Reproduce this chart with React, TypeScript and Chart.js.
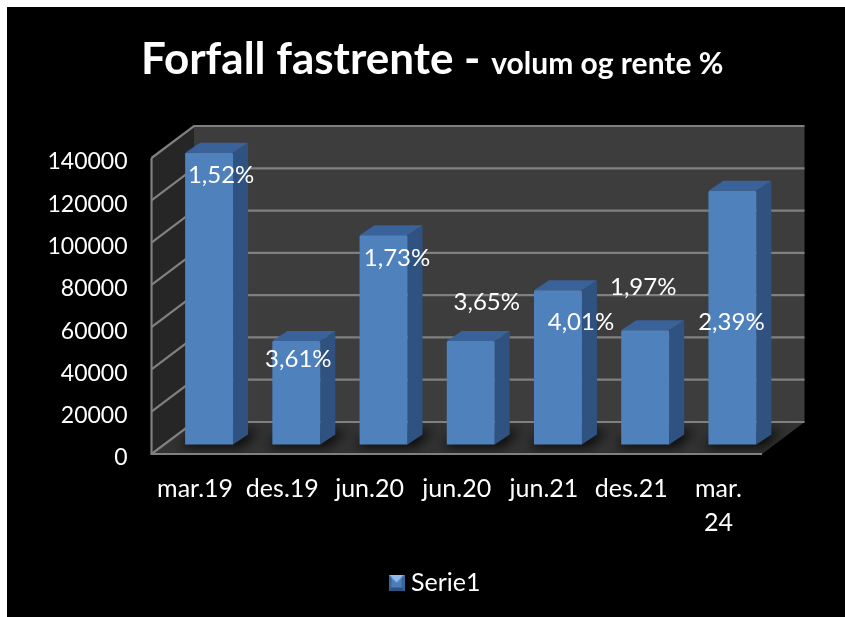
import React, { useEffect, useRef } from "react";
import { Chart, registerables } from "chart.js";

Chart.register(...registerables);

const categories: (string | string[])[] = ["mar.19", "des.19", "jun.20", "jun.20", "jun.21", "des.21", ["mar.", "24"]];
const volumes = [138000, 49000, 99000, 49000, 73000, 54000, 120000];
const rateLabels = ["1,52%", "3,61%", "1,73%", "3,65%", "4,01%", "1,97%", "2,39%"];
const rateLabelOffsets = [[12, 23], [2, 18], [13.5, 23], [16, -39], [23, 32], [-2, -43], [-1, 131]];
const seriesName = "Serie1";

const FONT = "Lato, 'Open Sans', sans-serif";
const WALL_DX = 42.5, WALL_DY = -32;
const BAR_SHIFT_X = 14, BAR_SHIFT_Y = -9.5;
const DEPTH_X = 15, DEPTH_Y = -10;

function poly(ctx: CanvasRenderingContext2D, pts: number[][], fill: string | CanvasGradient) {
  ctx.beginPath();
  pts.forEach((p, i) => (i ? ctx.lineTo(p[0], p[1]) : ctx.moveTo(p[0], p[1])));
  ctx.closePath();
  ctx.fillStyle = fill;
  ctx.fill();
}

const scene = {
  id: "scene3d",
  afterLayout(chart: any) {
    const lg = chart.legend;
    if (lg) { lg.left += 56.5; lg.right += 56.5; }
  },
  beforeDraw(chart: any) {
    const { ctx, chartArea: a, scales } = chart;
    ctx.save();
    ctx.fillStyle = "#fff";
    ctx.fillRect(0, 0, chart.width, chart.height);
    ctx.fillStyle = "#000";
    ctx.fillRect(7, 7, chart.width - 7, chart.height - 7);
    const { left: l, right: r, top: t, bottom: b } = a;
    const bl = l + WALL_DX, br = r + WALL_DX, bt = t + WALL_DY, bb = b + WALL_DY;
    poly(ctx, [[bl, bt], [br, bt], [br, bb], [bl, bb]], "#3d3d3d");
    poly(ctx, [[l, t], [bl, bt], [bl, bb], [l, b]], "#262626");
    poly(ctx, [[l, b], [bl, bb], [br, bb], [r, b]], "#333333");

    // floor shadows
    ctx.save();
    ctx.beginPath();
    ctx.moveTo(l, b); ctx.lineTo(bl, bb); ctx.lineTo(br, bb); ctx.lineTo(r, b); ctx.closePath();
    ctx.clip();
    ctx.filter = "blur(6px)";
    chart.getDatasetMeta(0).data.forEach((bar: any) => {
      const x0 = bar.x - bar.width / 2 + BAR_SHIFT_X, x1 = bar.x + bar.width / 2 + BAR_SHIFT_X;
      const y = bar.base + BAR_SHIFT_Y;
      poly(ctx, [[x0 - 6, y + 3], [x0 + 12, y - 14], [x1 + 26, y - 14], [x1 + 8, y + 3]], "rgba(0,0,0,0.8)");
    });
    ctx.restore();

    // grid
    ctx.strokeStyle = "#808080";
    ctx.lineWidth = 2.2;
    const y = scales.y;
    y.ticks.forEach((tk: any) => {
      const py = y.getPixelForValue(tk.value);
      ctx.beginPath();
      ctx.moveTo(l, py);
      ctx.lineTo(bl, py + WALL_DY);
      ctx.lineTo(br, py + WALL_DY);
      ctx.stroke();
    });
    ctx.beginPath();
    ctx.moveTo(l, t); ctx.lineTo(l, b); ctx.lineTo(r, b);
    ctx.stroke();
    ctx.restore();
  },
  beforeDatasetsDraw(chart: any) {
    const { ctx } = chart;
    ctx.save();
    ctx.translate(BAR_SHIFT_X, BAR_SHIFT_Y);
    chart.getDatasetMeta(0).data.forEach((bar: any) => {
      const x0 = bar.x - bar.width / 2, x1 = bar.x + bar.width / 2;
      const top = bar.y, base = bar.base;
      poly(ctx, [[x1, top], [x1 + DEPTH_X, top + DEPTH_Y], [x1 + DEPTH_X, base + DEPTH_Y], [x1, base]], "#2f5280");
      poly(ctx, [[x0, top], [x0 + DEPTH_X, top + DEPTH_Y], [x1 + DEPTH_X, top + DEPTH_Y], [x1, top]], "#386299");
    });
  },
  afterDatasetsDraw(chart: any) {
    const { ctx } = chart;
    ctx.restore();
    ctx.save();
    ctx.fillStyle = "#fff";
    ctx.font = `24px ${FONT}`;
    ctx.textAlign = "center";
    ctx.textBaseline = "middle";
    chart.getDatasetMeta(0).data.forEach((bar: any, i: number) => {
      const o = rateLabelOffsets[i];
      ctx.fillText(rateLabels[i], bar.x + BAR_SHIFT_X + o[0], bar.y + BAR_SHIFT_Y + o[1]);
    });
    ctx.restore();
  },
  afterDraw(chart: any) {
    const { ctx } = chart;
    ctx.save();
    ctx.fillStyle = "#fff";
    ctx.textBaseline = "alphabetic";
    ctx.textAlign = "left";
    ctx.font = `bold 44px ${FONT}`;
    const a = "Forfall fastrente - ";
    ctx.fillText(a, 141, 74);
    const w = ctx.measureText(a).width;
    ctx.font = `bold 30px ${FONT}`;
    ctx.fillText("volum og rente %", 141 + w, 74);
    ctx.restore();
  },
};

function makeSwatch() {
  const c = document.createElement("canvas");
  c.width = 16; c.height = 16;
  const x = c.getContext("2d")!;
  x.fillStyle = "#4a7ebb";
  x.fillRect(0, 0, 16, 16);
  poly(x, [[0, 0], [16, 0], [8, 8]], "#8fbbee");
  poly(x, [[0, 0], [3, 3], [3, 13], [0, 16]], "#3a659a");
  poly(x, [[16, 0], [13, 3], [13, 13], [16, 16]], "#3a659a");
  poly(x, [[0, 16], [3, 13], [13, 13], [16, 16]], "#2f5280");
  return c;
}

export default function App() {
  const ref = useRef<HTMLCanvasElement>(null);
  useEffect(() => {
    const swatch = makeSwatch();
    const chart = new Chart(ref.current!, {
      type: "bar",
      data: {
        labels: categories as any,
        datasets: [{
          label: seriesName,
          data: volumes,
          backgroundColor: "#4f81bd",
          borderRadius: 1.5,
          barPercentage: 0.55,
          categoryPercentage: 1,
          clip: false as any,
        }],
      },
      plugins: [scene],
      options: {
        responsive: false,
        animation: false,
        layout: { padding: { left: 0, right: 83, top: 158, bottom: 12 } },
        plugins: {
          title: { display: false },
          tooltip: { enabled: false },
          legend: {
            display: true,
            position: "bottom",
            labels: {
              color: "#fff",
              font: { family: FONT, size: 25 },
              usePointStyle: true,
              boxWidth: 4,
              boxHeight: 16,
              pointStyleWidth: 4,
              padding: 10,
              generateLabels: () => [{
                text: seriesName, fontColor: "#fff", fillStyle: "#4a7ebb", strokeStyle: "#4a7ebb",
                lineWidth: 0, pointStyle: swatch, datasetIndex: 0, hidden: false,
              }],
            },
          },
        },
        scales: {
          x: {
            grid: { display: false },
            border: { display: false },
            ticks: {
              color: "#fff", font: { family: FONT, size: 25, lineHeight: 1.36 },
              padding: 10, maxRotation: 0, autoSkip: false,
            },
            afterFit: (s: any) => { s.height = 106; },
          },
          y: {
            min: 0, max: 140000,
            grid: { display: false },
            border: { display: false },
            ticks: {
              stepSize: 20000, color: "#fff", font: { family: FONT, size: 23 },
              padding: 16, labelOffset: 4,
              callback: (v: any) => String(v),
            },
            afterFit: (s: any) => { s.width = 151.5; },
          },
        },
      },
    } as any);
    return () => chart.destroy();
  }, []);
  return (
    <canvas
      ref={ref}
      width={845}
      height={617}
      style={{ position: "fixed", left: 0, top: 0, width: 845, height: 617, display: "block" }}
    />
  );
}
